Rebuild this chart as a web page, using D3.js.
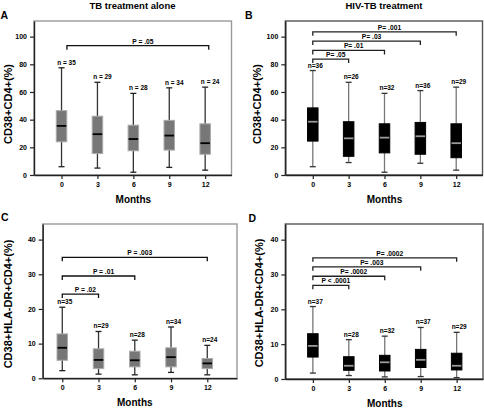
<!DOCTYPE html>
<html><head><meta charset="utf-8">
<script src="https://cdn.jsdelivr.net/npm/d3@7"></script>
<style>
body{margin:0;background:#fff;}
svg text{font-family:"Liberation Sans",Arial,sans-serif;font-weight:bold;fill:#000;}
</style></head>
<body><svg id="chart" width="484" height="411"></svg>
<script>
// ---------- data ----------
const months = [0, 3, 6, 9, 12];
const yTicksPct = [0, 20, 40, 60, 80, 100];
const yTicksDR = [0, 10, 20, 30, 40];

// Panel A: TB treatment alone, CD38+CD4+(%)
const aLow = [6, 5, 2, 5.5, 3.5];
const aQ1 = [24, 15.5, 17.5, 18, 15];
const aMed = [35.5, 29.5, 26, 28.5, 23];
const aQ3 = [46.5, 42.5, 36, 39.5, 37];
const aHigh = [77.5, 67, 59, 63, 63.5];
const aN = ["n = 35", "n = 29", "n = 28", "n = 34", "n = 24"];
const aBrFrom = [0.45], aBrTo = [12.3], aBrY = [93.5], aBrLabel = ["P = .05"];

// Panel B: HIV-TB treatment, CD38+CD4+(%)
const bLow = [6, 9, 2, 8.5, 3.5];
const bQ1 = [24.5, 13.5, 16, 15, 12.5];
const bMed = [38.5, 26.5, 27, 28, 23];
const bQ3 = [48.5, 38.5, 37, 38, 37];
const bHigh = [75.5, 67, 59, 61, 63.5];
const bN = ["n=36", "n=26", "n=32", "n=36", "n=29"];
const bBrFrom = [0, 0, 0, 0], bBrTo = [3, 6, 9, 12], bBrY = [83.8, 90, 96.8, 103.5];
const bBrLabel = ["P= .05", "P= .01", "P= .03", "P= .001"];

// Panel C: TB treatment alone, CD38+HLA-DR+CD4+(%)
const cLow = [2.2, 1.2, 1, 1.7, 1];
const cQ1 = [5.2, 2.8, 3.3, 3.3, 2.8];
const cMed = [8.8, 5.3, 5.2, 6.1, 4.3];
const cQ3 = [12.8, 8.5, 7.8, 8.8, 5.7];
const cHigh = [20.5, 13.5, 11, 14.8, 9.5];
const cN = ["n=35", "n=29", "n=28", "n=34", "n=24"];
const cBrFrom = [0, 0, 0], cBrTo = [3, 6, 12], cBrY = [24.3, 29.5, 34.9];
const cBrLabel = ["P = .02", "P = .01", "P = .003"];

// Panel D: HIV-TB treatment, CD38+HLA-DR+CD4+(%)
const dLow = [1.7, 1, 0.6, 0.7, 0.4];
const dQ1 = [6.3, 2.5, 2.3, 3.3, 2.6];
const dMed = [9.5, 3.8, 4.8, 5.5, 3.8];
const dQ3 = [13, 6.4, 6.8, 8.5, 7.4];
const dHigh = [20.8, 11.3, 12.3, 14.8, 13.4];
const dN = ["n=37", "n=28", "n=32", "n=37", "n=29"];
const dBrFrom = [0, 0, 0, 0], dBrTo = [3, 6, 9, 12], dBrY = [26.9, 29.5, 32.2, 34.8];
const dBrLabel = ["P < .0001", "P= .0002", "P= .003", "P= .0002"];

// ---------- drawing ----------
const svg = d3.select("#chart");

function drawPanel(cfg, low, q1, med, q3, high, nLab, brFrom, brTo, brY, brLab) {
  const g = svg.append("g");
  const x = d3.scaleLinear().domain(cfg.xDomain).range([cfg.left, cfg.right]);
  const y = d3.scaleLinear().domain([0, cfg.yMax]).range([cfg.bottom, cfg.top]);

  g.append("rect")
    .attr("x", cfg.left).attr("y", cfg.top)
    .attr("width", cfg.right - cfg.left).attr("height", cfg.bottom - cfg.top)
    .attr("fill", "none").attr("stroke", cfg.frame).attr("stroke-width", 1.4);

  const ya = g.append("g").attr("transform", `translate(${cfg.left},0)`)
    .call(d3.axisLeft(y).tickValues(cfg.yTicks).tickSize(4).tickPadding(3).tickSizeOuter(0));
  const xa = g.append("g").attr("transform", `translate(0,${cfg.bottom})`)
    .call(d3.axisBottom(x).tickValues(months).tickFormat(d => d).tickSize(4).tickPadding(3).tickSizeOuter(0));
  [ya, xa].forEach(a => {
    a.selectAll("path.domain").attr("stroke", "#222").attr("stroke-width", 1.4);
    a.selectAll(".tick line").attr("stroke", "#222").attr("stroke-width", 1.2);
    a.selectAll(".tick text").style("font-size", "7px").attr("fill", "#000");
  });

  const idx = d3.range(months.length);
  const bw = 10.5, cw = 6;
  // whiskers
  g.selectAll(".wh").data(idx).join("line")
    .attr("x1", i => x(months[i])).attr("x2", i => x(months[i]))
    .attr("y1", i => y(low[i])).attr("y2", i => y(high[i]))
    .attr("stroke", cfg.whisker).attr("stroke-width", 1.3);
  ["low", "high"].forEach(k => {
    const arr = k === "low" ? low : high;
    g.selectAll(".cap" + k).data(idx).join("line")
      .attr("x1", i => x(months[i]) - cw / 2).attr("x2", i => x(months[i]) + cw / 2)
      .attr("y1", i => y(arr[i])).attr("y2", i => y(arr[i]))
      .attr("stroke", cfg.cap).attr("stroke-width", 1.3);
  });
  // boxes
  g.selectAll(".bx").data(idx).join("rect")
    .attr("x", i => x(months[i]) - bw / 2).attr("width", bw)
    .attr("y", i => y(q3[i])).attr("height", i => y(q1[i]) - y(q3[i]))
    .attr("fill", cfg.boxFill).attr("stroke", cfg.boxStroke).attr("stroke-width", 1);
  g.selectAll(".md").data(idx).join("line")
    .attr("x1", i => x(months[i]) - bw / 2 + 0.5).attr("x2", i => x(months[i]) + bw / 2 - 0.5)
    .attr("y1", i => y(med[i])).attr("y2", i => y(med[i]))
    .attr("stroke", cfg.median).attr("stroke-width", 1.8);
  // n labels
  g.selectAll(".nl").data(idx).join("text")
    .attr("x", i => x(months[i]) + cfg.nDx).attr("y", i => y(high[i]) - 3)
    .attr("text-anchor", "middle").style("font-size", "6.5px")
    .text(i => nLab[i]);
  // brackets
  const bi = d3.range(brFrom.length);
  g.selectAll(".br").data(bi).join("path")
    .attr("d", i => `M${x(brFrom[i])},${y(brY[i]) + 4}V${y(brY[i])}H${x(brTo[i])}V${y(brY[i]) + 4}`)
    .attr("fill", "none").attr("stroke", cfg.bracket).attr("stroke-width", 1.3);
  g.selectAll(".bl").data(bi).join("text")
    .attr("x", i => x((brFrom[i] + brTo[i]) / 2) + 5).attr("y", i => y(brY[i]) - 2)
    .attr("text-anchor", "middle").style("font-size", "6.7px")
    .text(i => brLab[i]);

  // labels
  g.append("text").attr("x", (x(0) + x(12)) / 2).attr("y", cfg.bottom + 27.5)
    .attr("text-anchor", "middle").style("font-size", "10px").text("Months");
  g.append("text")
    .attr("transform", `translate(${cfg.yLabX},${cfg.yLabY}) rotate(-90)`)
    .attr("text-anchor", "middle").style("font-size", "11px").text(cfg.yLabel);
  g.append("text").attr("x", cfg.letterX).attr("y", cfg.letterY)
    .style("font-size", "10.5px").text(cfg.letter);
  if (cfg.title) {
    g.append("text").attr("x", cfg.titleX).attr("y", 8.5)
      .attr("text-anchor", "middle").style("font-size", "9.5px").text(cfg.title);
  }
}

const greyStyle = {frame: "#999", whisker: "#333", cap: "#222", boxFill: "#777", boxStroke: "#aaa", median: "#000", bracket: "#111", nDx: 5};
const blackStyle = {frame: "#555", whisker: "#777", cap: "#333", boxFill: "#000", boxStroke: "#000", median: "#999", bracket: "#222", nDx: 2.5};

drawPanel(Object.assign({}, greyStyle, {
  left: 34, right: 231.5, top: 21, bottom: 175, xDomain: [-2.3, 14.2], yMax: 111.3, yTicks: yTicksPct,
  yLabel: "CD38+CD4+(%)", yLabX: 11.8, yLabY: 104, letter: "A", letterX: 0.5, letterY: 19.3,
  title: "TB treatment alone", titleX: 132.5}),
  aLow, aQ1, aMed, aQ3, aHigh, aN, aBrFrom, aBrTo, aBrY, aBrLabel);

drawPanel(Object.assign({}, blackStyle, {
  left: 285.3, right: 482.5, top: 21, bottom: 175, xDomain: [-2.3, 14.2], yMax: 111.3, yTicks: yTicksPct,
  yLabel: "CD38+CD4+(%)", yLabX: 261, yLabY: 104, letter: "B", letterX: 245, letterY: 19.3,
  title: "HIV-TB treatment", titleX: 384}),
  bLow, bQ1, bMed, bQ3, bHigh, bN, bBrFrom, bBrTo, bBrY, bBrLabel);

drawPanel(Object.assign({}, greyStyle, {nDx: 2.5,
  left: 42.7, right: 237, top: 224, bottom: 378.3, xDomain: [-1.62, 14.46], yMax: 44.5, yTicks: yTicksDR,
  yLabel: "CD38+HLA-DR+CD4+(%)", yLabX: 12, yLabY: 304, letter: "C", letterX: 1, letterY: 221}),
  cLow, cQ1, cMed, cQ3, cHigh, cN, cBrFrom, cBrTo, cBrY, cBrLabel);

drawPanel(Object.assign({}, blackStyle, {
  left: 285.3, right: 483, top: 224, bottom: 379, xDomain: [-2.3, 14.2], yMax: 44.5, yTicks: yTicksDR,
  yLabel: "CD38+HLA-DR+CD4+(%)", yLabX: 263, yLabY: 303, letter: "D", letterX: 248.5, letterY: 221.5}),
  dLow, dQ1, dMed, dQ3, dHigh, dN, dBrFrom, dBrTo, dBrY, dBrLabel);
</script>
</body></html>
